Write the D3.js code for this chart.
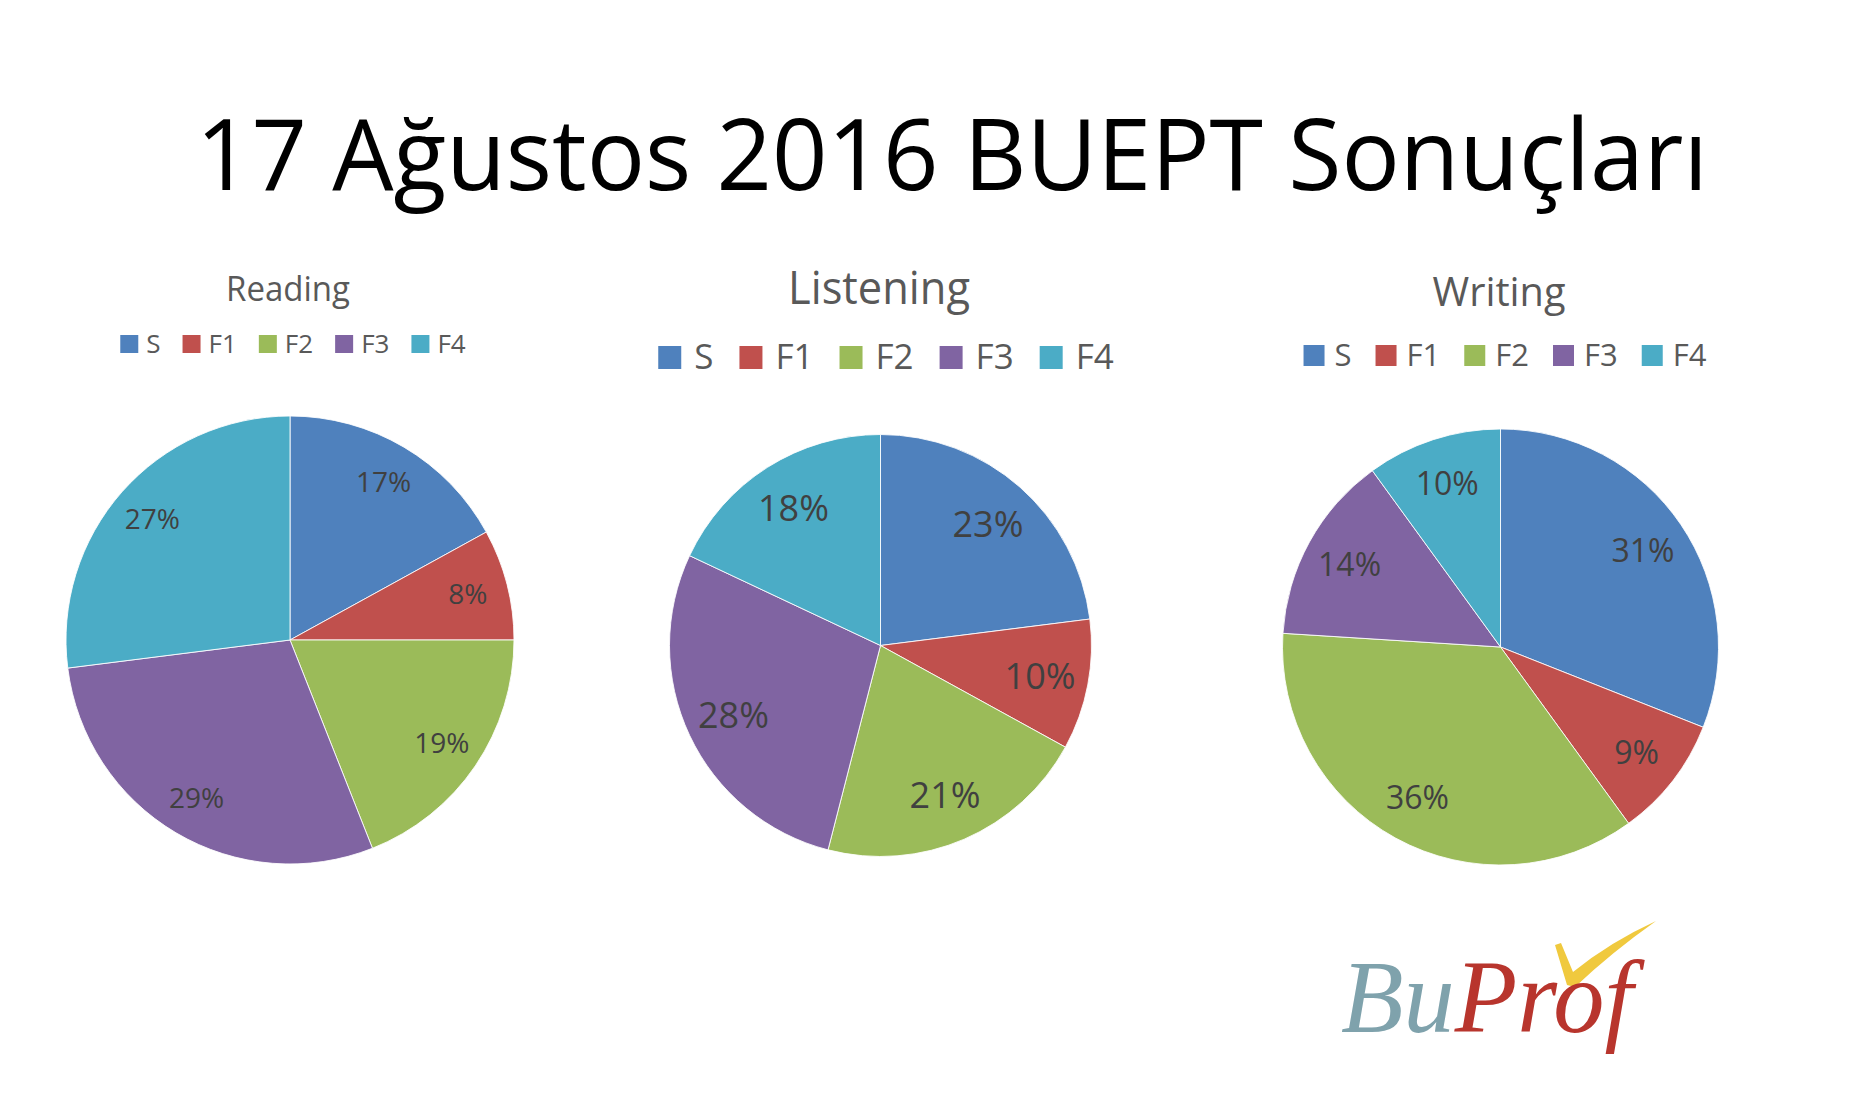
<!DOCTYPE html>
<html><head><meta charset="utf-8">
<script src="https://cdn.jsdelivr.net/npm/d3@7"></script>
<style>body{margin:0;background:#fff} svg{display:block}</style>
</head><body>
<svg id="c" width="1860" height="1114"></svg>
<script>
// ---- data ----
const mainTitle = "17 Ağustos 2016 BUEPT Sonuçları";
const categories = ["S", "F1", "F2", "F3", "F4"];
const chartNames = ["Reading", "Listening", "Writing"];
const readingValues = [17, 8, 19, 29, 27];
const listeningValues = [23, 10, 21, 28, 18];
const writingValues = [31, 9, 36, 14, 10];
const sliceColors = ["#4F81BD", "#C0504D", "#9BBB59", "#8064A2", "#4BACC6"];
const logoParts = ["Bu", "Prof"];

// ---- layout ----
const FONT = "'Open Sans', 'Noto Sans', sans-serif";
const layouts = [
  {cx: 290, cy: 640, r: 224, titleX: 288, titleY: 301, titleSize: 35, titleW: 124,
   legY: 353, legSize: 26, sq: 18, g1: 8, g2: 22, legCx: 293, labSize: 28, labFrac: 0.82},
  {cx: 880.5, cy: 645.5, r: 211, titleX: 879, titleY: 304, titleSize: 45, titleW: 182,
   legY: 369, legSize: 35, sq: 23, g1: 13, g2: 26, legCx: 886, labSize: 36, labFrac: 0.77},
  {cx: 1500.5, cy: 647, r: 218, titleX: 1499, titleY: 306, titleSize: 41, titleW: 133,
   legY: 366, legSize: 31, sq: 21, g1: 10, g2: 24, legCx: 1505, labSize: 32, labFrac: 0.79}
];
const seriesList = [readingValues, listeningValues, writingValues];

const svg = d3.select("#c");
svg.append("rect").attr("width", 1860).attr("height", 1114).attr("fill", "#fff");

// main title
svg.append("text")
  .attr("x", 952).attr("y", 190)
  .attr("text-anchor", "middle")
  .attr("font-family", FONT).attr("font-size", 98)
  .attr("fill", "#000")
  .attr("textLength", 1512).attr("lengthAdjust", "spacingAndGlyphs")
  .text(mainTitle);

const color = d3.scaleOrdinal().domain(categories).range(sliceColors);
const pie = d3.pie().sort(null).value(d => d.value);

seriesList.forEach((vals, i) => {
  const L = layouts[i];
  const data = categories.map((c, j) => ({cat: c, value: vals[j]}));
  const total = d3.sum(vals);
  const arcs = pie(data);
  const g = svg.append("g");

  // chart title
  g.append("text")
    .attr("x", L.titleX).attr("y", L.titleY)
    .attr("text-anchor", "middle")
    .attr("font-family", FONT).attr("font-size", L.titleSize)
    .attr("fill", "#595959")
    .attr("textLength", L.titleW).attr("lengthAdjust", "spacingAndGlyphs")
    .text(chartNames[i]);

  // legend
  const leg = g.append("g");
  let x = 0;
  categories.forEach((c, j) => {
    leg.append("rect")
      .attr("x", x).attr("y", L.legY - L.sq)
      .attr("width", L.sq).attr("height", L.sq)
      .attr("fill", color(c));
    const t = leg.append("text")
      .attr("x", x + L.sq + L.g1).attr("y", L.legY)
      .attr("font-family", FONT).attr("font-size", L.legSize)
      .attr("fill", "#595959")
      .text(c);
    const w = t.node().getComputedTextLength();
    x += L.sq + L.g1 + w + (j < categories.length - 1 ? L.g2 : 0);
  });
  leg.attr("transform", `translate(${L.legCx - x / 2},0)`);

  // pie
  const arc = d3.arc().innerRadius(0).outerRadius(L.r);
  const labelArc = d3.arc().innerRadius(L.r * L.labFrac).outerRadius(L.r * L.labFrac);
  const pg = g.append("g").attr("transform", `translate(${L.cx},${L.cy})`);
  pg.selectAll("path").data(arcs).join("path")
    .attr("d", arc)
    .attr("fill", d => color(d.data.cat))
    .attr("stroke", "#ffffff").attr("stroke-opacity", 0.85)
    .attr("stroke-width", 1);
  pg.selectAll("text").data(arcs).join("text")
    .attr("transform", d => `translate(${labelArc.centroid(d)})`)
    .attr("text-anchor", "middle")
    .attr("dy", "0.36em")
    .attr("font-family", FONT).attr("font-size", L.labSize)
    .attr("fill", "#404040")
    .text(d => Math.round(d.data.value / total * 100) + "%");
});

// logo
const logo = svg.append("g");
logo.append("path")
  .attr("d", "M1555,945 L1561,943 L1573,972 Q1610,942 1656,921 Q1612,952 1575,987 L1567,985 Z")
  .attr("fill", "#F0C93E");
const lt = logo.append("text")
  .attr("x", 1341).attr("y", 1032)
  .attr("font-family", "'Liberation Serif', serif")
  .attr("font-style", "italic")
  .attr("font-size", 104)
  .attr("textLength", 292).attr("lengthAdjust", "spacingAndGlyphs");
lt.append("tspan").attr("fill", "#7FA2AC").text(logoParts[0]);
lt.append("tspan").attr("fill", "#B8352D").text(logoParts[1]);
</script>
</body></html>
